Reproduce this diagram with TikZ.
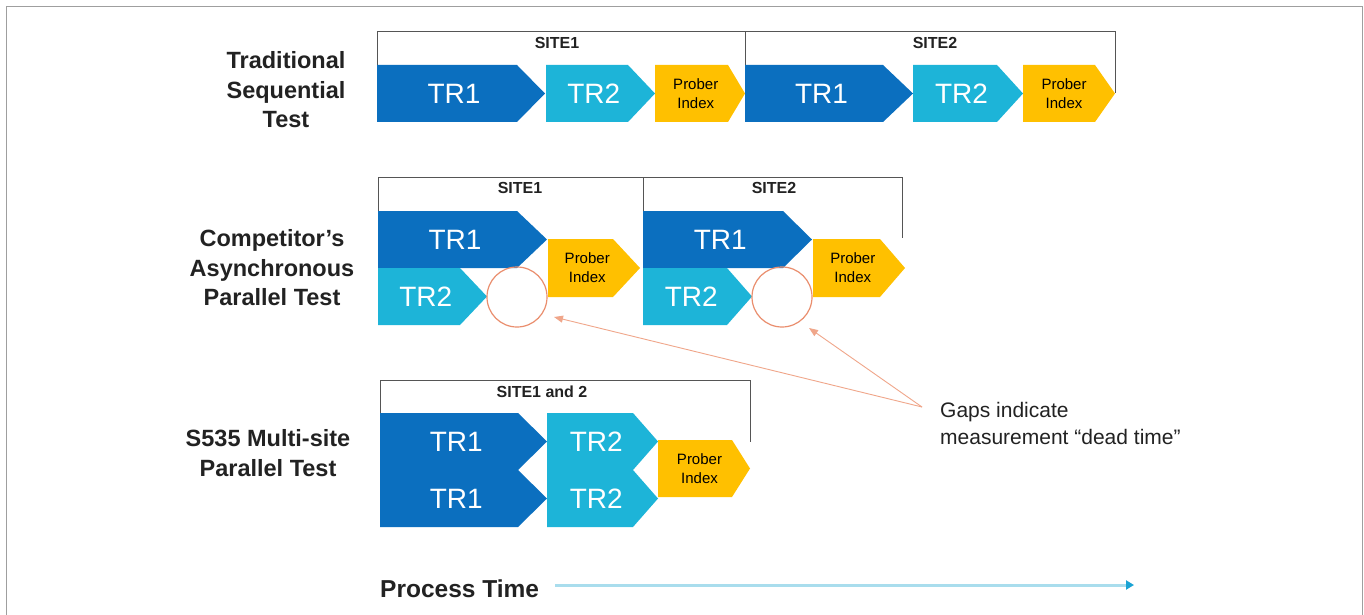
\documentclass[tikz,border=0pt]{standalone}
\usepackage{fontspec}
\setmainfont{Liberation Sans}
\usetikzlibrary{arrows.meta}
\definecolor{trone}{HTML}{0B6FBF}
\definecolor{trtwo}{HTML}{1DB4D8}
\definecolor{prober}{HTML}{FFC000}
\definecolor{gapc}{HTML}{EA8E6E}
\definecolor{gapl}{HTML}{F0A68A}
\definecolor{ink}{HTML}{222222}
\definecolor{brk}{HTML}{555555}
\definecolor{ptl}{HTML}{A9DDED}
\definecolor{pttip}{HTML}{1AA3D4}
\newcommand\penta[9]{%
  \fill[#7] (#2,#5) -- (#3,#5) -- (#4,{(#5+#6)/2}) -- (#3,#6) -- (#2,#6) -- cycle;
  \node[#8] (#1) at ({(#2+(#3+#4)/2)/2},{(#5+#6)/2}) {#9};}
\tikzset{
  trtxt/.style={text=white, font=\fontsize{28}{30}\selectfont, inner sep=0pt},
  prtxt/.style={text=black, font=\fontsize{15}{19}\selectfont, align=center, inner sep=0pt},
  rowlbl/.style={text=ink, font=\fontsize{23.5}{29.5}\selectfont\bfseries, align=center, inner sep=0pt},
  sitelbl/.style={text=ink, font=\fontsize{16}{18}\selectfont\bfseries, inner sep=0pt},
  bracket/.style={draw=brk, line width=1pt},
  gapcircle/.style={circle, draw=gapc, line width=1.2pt, minimum size=60pt, inner sep=0pt},
  gaparrow/.style={draw=gapl, line width=0.9pt, -{Triangle[length=9pt,width=7pt]}},
  ptarrow/.style={draw=ptl, line width=3pt, -{Triangle[length=8pt,width=9pt,color=pttip]}},
}
\begin{document}
\begin{tikzpicture}[x=1pt,y=-1pt]
\useasboundingbox (0,0) rectangle (1364,615);
\fill[white] (0,0) rectangle (1364,615);
% outer frame
\draw[color=gray!75, line width=1.5pt] (6.5,616) -- (6.5,6.5) -- (1362.5,6.5) -- (1362.5,616);

% ---------- Row 1 ----------
\node[rowlbl] (l1) at (286,90) {Traditional\\Sequential\\Test};
\draw[bracket] (377,65) -- (377,32) -- (1115,32) -- (1115,93);
\draw[bracket] (745,32) -- (745,65);
\node[sitelbl] (s1a) at (557,43) {SITE1};
\node[sitelbl] (s1b) at (935,43) {SITE2};
\penta{a1}{377}{517}{545}{65}{122}{trone}{trtxt}{TR1}
\penta{a2}{546}{628}{655}{65}{122}{trtwo}{trtxt}{TR2}
\penta{a3}{655}{728}{745}{65}{122}{prober}{prtxt}{Prober\\Index}
\penta{a4}{745}{883}{913}{65}{122}{trone}{trtxt}{TR1}
\penta{a5}{913}{997}{1023}{65}{122}{trtwo}{trtxt}{TR2}
\penta{a6}{1023}{1095}{1115}{65}{122}{prober}{prtxt}{Prober\\Index}

% ---------- Row 2 ----------
\node[rowlbl] (l2) at (272,268) {Competitor’s\\Asynchronous\\Parallel Test};
\draw[bracket] (378,211) -- (378,177) -- (902,177) -- (902,238);
\draw[bracket] (643,177) -- (643,211);
\node[sitelbl] (s2a) at (520,188) {SITE1};
\node[sitelbl] (s2b) at (774,188) {SITE2};
\penta{b1}{378}{517}{547}{211}{268}{trone}{trtxt}{TR1}
\penta{b2}{378}{460}{487}{268}{325}{trtwo}{trtxt}{TR2}
\penta{b3}{548}{613}{640}{239}{297}{prober}{prtxt}{Prober\\Index}
\node[gapcircle] (c1) at (517,297) {};
\penta{b4}{643}{783}{812}{211}{268}{trone}{trtxt}{TR1}
\penta{b5}{643}{727}{752}{268}{325}{trtwo}{trtxt}{TR2}
\penta{b6}{813}{880}{905}{239}{297}{prober}{prtxt}{Prober\\Index}
\node[gapcircle] (c2) at (782,297) {};

% ---------- Row 3 ----------
\node[rowlbl] (l3) at (268,453) {S535 Multi-site\\Parallel Test};
\draw[bracket] (380,413) -- (380,380) -- (750,380) -- (750,442);
\node[sitelbl] (s3) at (542,392) {SITE1 and 2};
\penta{d1}{380}{518}{547}{413}{470}{trone}{trtxt}{TR1}
\penta{d2}{380}{518}{547}{470}{527}{trone}{trtxt}{TR1}
\penta{d3}{547}{633}{658}{413}{470}{trtwo}{trtxt}{TR2}
\penta{d4}{547}{633}{658}{470}{527}{trtwo}{trtxt}{TR2}
\penta{d5}{658}{732}{750}{440}{497}{prober}{prtxt}{Prober\\Index}

% ---------- Gap annotation ----------
\node[text=ink, font=\fontsize{21}{27}\selectfont, align=left, anchor=west, inner sep=0pt] (gaps) at (940,423) {Gaps indicate\\measurement “dead time”};
\coordinate (g) at (922,407);
\coordinate (t1) at (554,317);
\coordinate (t2) at (809,328);
\draw[gaparrow] (g) -- (t1);
\draw[gaparrow] (g) -- (t2);

% ---------- Process time ----------
\node[text=ink, font=\fontsize{24.5}{28}\selectfont\bfseries, anchor=west, inner sep=0pt] (pt) at (380,589) {Process Time};
\coordinate (ps) at (555,585);
\coordinate (pe) at (1134,585);
\draw[ptarrow] (ps) -- (pe);
\end{tikzpicture}
\end{document}
